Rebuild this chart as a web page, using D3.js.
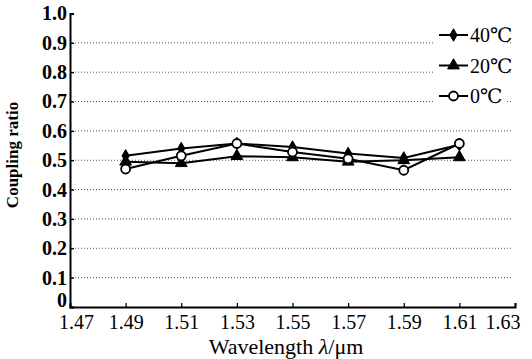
<!DOCTYPE html>
<html>
<head>
<meta charset="utf-8">
<script src="https://cdn.jsdelivr.net/npm/d3@7"></script>
<style>
  body { margin: 0; background: #fff; }
  svg text { font-family: "Liberation Serif", "DejaVu Serif", serif; fill: #000; }
</style>
</head>
<body>
<div id="chart"></div>
<script>
// wavelengths (um)
const wavelengths = [1.49, 1.51, 1.53, 1.55, 1.57, 1.59, 1.61];
const ratio40 = [0.515, 0.540, 0.557, 0.545, 0.523, 0.508, 0.553];
const ratio20 = [0.495, 0.490, 0.514, 0.510, 0.495, 0.500, 0.510];
const ratio0  = [0.470, 0.515, 0.557, 0.528, 0.505, 0.466, 0.557];
const seriesNames = ['40℃', '20℃', '0℃'];
const xTicks = [1.47, 1.49, 1.51, 1.53, 1.55, 1.57, 1.59, 1.61, 1.63];
const yTicks = [0, 0.1, 0.2, 0.3, 0.4, 0.5, 0.6, 0.7, 0.8, 0.9, 1.0];
const gridTicks = [0.1, 0.2, 0.3, 0.4, 0.5, 0.6, 0.7, 0.8, 0.9];

const width = 532, height = 359;
const margin = { top: 13.5, right: 17, bottom: 52, left: 70 };

const svg = d3.select('#chart').append('svg')
  .attr('width', width)
  .attr('height', height);

svg.append('rect').attr('width', width).attr('height', height).attr('fill', '#fff');

const x = d3.scaleLinear().domain([1.47, 1.63]).range([margin.left, width - margin.right]);
const y = d3.scaleLinear().domain([0, 1]).range([height - margin.bottom, margin.top]);

// dotted grid
svg.append('g')
  .selectAll('line')
  .data(gridTicks)
  .enter().append('line')
  .attr('x1', x(1.47) + 2)
  .attr('x2', x(1.63) - 3)
  .attr('y1', d => y(d))
  .attr('y2', d => y(d))
  .attr('stroke', '#555')
  .attr('stroke-width', 1)
  .attr('stroke-dasharray', '1,2');

// axes (ticks point inward)
const xAxis = svg.append('g')
  .attr('transform', `translate(0,${y(0)})`)
  .call(d3.axisBottom(x).tickValues(xTicks).tickSizeInner(-4).tickSizeOuter(-4).tickPadding(8)
    .tickFormat(d3.format('.2f')));
xAxis.attr('font-family', null);
xAxis.select('.domain').attr('stroke-width', 2);
xAxis.selectAll('.tick line').attr('stroke-width', 1.3);
xAxis.selectAll('text').style('font-size', '20px');
xAxis.selectAll('text').filter(d => d === 1.47).attr('x', 6);
xAxis.selectAll('text').filter(d => d === 1.63).attr('x', 5).attr('text-anchor', 'end');

const yAxis = svg.append('g')
  .attr('transform', `translate(${x(1.47)},0)`)
  .call(d3.axisLeft(y).tickValues(yTicks).tickSizeInner(-4).tickSizeOuter(-4).tickPadding(3)
    .tickFormat(d => d === 0 ? '0' : d3.format('.1f')(d)));
yAxis.attr('font-family', null);
yAxis.select('.domain').attr('stroke-width', 2);
yAxis.selectAll('.tick line').attr('stroke-width', 1.3);
yAxis.selectAll('text').style('font-size', '20px').style('font-weight', 'bold');
yAxis.selectAll('text').filter(d => d === 0).attr('y', -6.5);

// axis titles
svg.append('text')
  .attr('x', 286).attr('y', 354)
  .attr('text-anchor', 'middle')
  .style('font-size', '22px')
  .html('Wavelength <tspan font-style="italic">λ</tspan>/μm');

svg.append('text')
  .attr('transform', 'translate(18,155) rotate(-90)')
  .attr('text-anchor', 'middle')
  .style('font-size', '17px')
  .style('font-weight', 'bold')
  .text('Coupling ratio');

// series
const series = [
  { name: seriesNames[0], values: ratio40, marker: 'diamond' },
  { name: seriesNames[1], values: ratio20, marker: 'triangle' },
  { name: seriesNames[2], values: ratio0, marker: 'circle' }
];

const line = d3.line()
  .x(d => x(d[0]))
  .y(d => y(d[1]));

function drawMarker(g, type, cx, cy) {
  if (type === 'circle') {
    g.append('circle').attr('cx', cx).attr('cy', cy).attr('r', 4.5)
      .attr('fill', '#fff').attr('stroke', '#000').attr('stroke-width', 1.8);
  } else {
    const sym = type === 'diamond' ? d3.symbolDiamond : d3.symbolTriangle;
    const size = type === 'diamond' ? 45 : 60;
    g.append('path').attr('d', d3.symbol().type(sym).size(size)())
      .attr('transform', `translate(${cx},${cy})`)
      .attr('fill', '#000').attr('stroke', '#000').attr('stroke-width', 1);
  }
}

series.forEach(s => {
  const pts = wavelengths.map((w, i) => [w, s.values[i]]);
  const g = svg.append('g');
  g.append('path').datum(pts)
    .attr('fill', 'none')
    .attr('stroke', '#000')
    .attr('stroke-width', 2)
    .attr('d', line);
  pts.forEach(p => drawMarker(g, s.marker, x(p[0]), y(p[1])));
});

// legend
const legend = svg.append('g');
legend.append('rect')
  .attr('x', 433).attr('y', 20).attr('width', 73).attr('height', 90)
  .attr('fill', '#fff');
series.forEach((s, i) => {
  const ly = 35 + i * 30.5;
  legend.append('line').attr('x1', 439).attr('x2', 468).attr('y1', ly).attr('y2', ly)
    .attr('stroke', '#000').attr('stroke-width', 2);
  drawMarker(legend, s.marker, 453.5, ly);
  legend.append('text').attr('x', 470).attr('y', ly + 7)
    .style('font-size', '20px')
    .text(s.name);
});
</script>
</body>
</html>
